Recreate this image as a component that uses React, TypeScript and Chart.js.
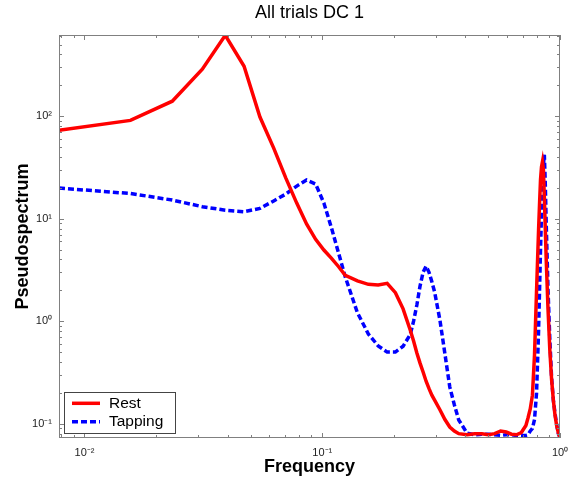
import React, { useEffect, useRef } from "react";
import { Chart, registerables } from "chart.js";

Chart.register(...registerables);

// Frequencies (k/128) at which the spectra are sampled
const frequency = [
  0.0078125, 0.0156, 0.0234, 0.0313, 0.0391, 0.0469, 0.0547, 0.0625, 0.0703, 0.0781,
  0.0859, 0.0938, 0.1016, 0.1094, 0.1172, 0.125, 0.1406, 0.1563, 0.1719, 0.1875,
  0.2031, 0.2188, 0.2344, 0.2422, 0.25, 0.2578, 0.2656, 0.2734, 0.2813, 0.2891,
  0.2969, 0.3125, 0.3281, 0.3438, 0.3594, 0.375, 0.4063, 0.4375, 0.4688, 0.5,
  0.5313, 0.5625, 0.5938, 0.625, 0.6563, 0.6875, 0.7188, 0.7344, 0.75, 0.7656,
  0.7813, 0.7969, 0.8125, 0.8203, 0.8281, 0.8359, 0.8438, 0.8516, 0.8594, 0.8672,
  0.875, 0.8906, 0.9063, 0.9219, 0.9375, 0.9531, 0.9688, 0.9844, 1.0,
];

const restValues = [
  73, 91, 140, 287, 615, 307, 98, 48.8, 24.9, 14.2,
  8.9, 6.3, 4.95, 4.1, 3.4, 2.8, 2.47, 2.29, 2.26, 2.34,
  1.9, 1.32, 0.82, 0.64, 0.49, 0.39, 0.32, 0.26, 0.22, 0.19,
  0.17, 0.137, 0.11, 0.093, 0.085, 0.08, 0.078, 0.08, 0.08, 0.078,
  0.08, 0.085, 0.083, 0.079, 0.078, 0.082, 0.096, 0.115, 0.14, 0.19,
  0.47, 2.0, 7.7, 14, 24, 32, 36, 30, 16, 8,
  4, 1.3, 0.52, 0.27, 0.17, 0.12, 0.095, 0.081, 0.073,
];

const tappingValues = [
  19.9, 17.6, 15.2, 13.1, 12.1, 11.7, 12.6, 14.9, 17.4, 20.8,
  23.8, 21.8, 14.2, 8.1, 4.6, 2.7, 1.21, 0.75, 0.575, 0.5,
  0.5, 0.57, 0.74, 1.0, 1.44, 2.2, 3.0, 3.45, 3.0, 2.42,
  1.93, 1.03, 0.48, 0.229, 0.153, 0.109, 0.081, 0.078, 0.079, 0.079,
  0.078, 0.077, 0.078, 0.078, 0.077, 0.077, 0.077, 0.078, 0.085, 0.09,
  0.11, 0.2, 0.8, 2, 5, 11, 22, 34, 42, 22,
  9, 2.0, 0.66, 0.28, 0.17, 0.126, 0.097, 0.08, 0.074,
];

const xTickValues = [0.01, 0.1, 1];
const xTickLabels = ["10\u207B\u00B2", "10\u207B\u00B9", "10\u2070"];
const yTickValues = [0.1, 1, 10, 100];
const yTickLabels = ["10\u207B\u00B9", "10\u2070", "10\u00B9", "10\u00B2"];

const X_MIN = 0.0078125;
const X_MAX = 1;
const Y_MIN = 0.0726;
const Y_MAX = 619;

const FONT = "'Liberation Sans', Arial, sans-serif";

function minorTicks(min: number, max: number) {
  const out: { v: number; major: boolean }[] = [];
  for (let e = Math.floor(Math.log10(min)); e <= Math.ceil(Math.log10(max)); e++) {
    for (let m = 1; m <= 9; m++) {
      const v = m * Math.pow(10, e);
      if (v >= min * 0.9999 && v <= max * 1.0001) out.push({ v, major: m === 1 });
    }
  }
  return out;
}

const framePlugin = {
  id: "frame",
  afterDatasetsDraw(chart: any) {
    const { ctx, chartArea: a, scales } = chart;
    ctx.save();
    ctx.strokeStyle = "#808080";
    ctx.lineWidth = 1;
    ctx.beginPath();
    for (const t of minorTicks(X_MIN, X_MAX)) {
      const px = Math.round(scales.x.getPixelForValue(t.v)) + 0.5;
      const len = t.major ? 5 : 3;
      ctx.moveTo(px, a.bottom);
      ctx.lineTo(px, a.bottom - len);
      ctx.moveTo(px, a.top);
      ctx.lineTo(px, a.top + len);
    }
    for (const t of minorTicks(Y_MIN, Y_MAX)) {
      const py = Math.round(scales.y.getPixelForValue(t.v)) + 0.5;
      const len = t.major ? 5 : 3;
      ctx.moveTo(a.left, py);
      ctx.lineTo(a.left + len, py);
      ctx.moveTo(a.right, py);
      ctx.lineTo(a.right - len, py);
    }
    ctx.stroke();
    ctx.strokeRect(a.left + 0.5, a.top + 0.5, a.right - a.left - 1, a.bottom - a.top - 1);

    // legend
    const lx = 64.5, ly = 392.5, lw = 111, lh = 41;
    ctx.fillStyle = "#ffffff";
    ctx.fillRect(lx, ly, lw, lh);
    ctx.strokeStyle = "#444";
    ctx.strokeRect(lx, ly, lw, lh);
    const rows = [403.3, 421.7];
    chart.data.datasets.forEach((ds: any, i: number) => {
      const y = rows[i];
      ctx.beginPath();
      ctx.strokeStyle = ds.borderColor;
      ctx.lineWidth = ds.borderWidth;
      ctx.setLineDash(ds.borderDash || []);
      ctx.moveTo(72, y);
      ctx.lineTo(100, y);
      ctx.stroke();
      ctx.setLineDash([]);
      ctx.fillStyle = "#000";
      ctx.font = `15.5px ${FONT}`;
      ctx.textBaseline = "middle";
      ctx.textAlign = "left";
      ctx.fillText(ds.label, 109, y + 0.5);
    });
    ctx.restore();
  },
};

export default function App() {
  const ref = useRef<HTMLCanvasElement | null>(null);

  useEffect(() => {
    if (!ref.current) return;
    const chart = new Chart(ref.current, {
      type: "line",
      data: {
        datasets: [
          {
            label: "Rest",
            data: frequency.map((f, i) => ({ x: f, y: restValues[i] })),
            borderColor: "#ff0000",
            borderWidth: 3.5,
            pointRadius: 0,
            tension: 0,
            fill: false,
          },
          {
            label: "Tapping",
            data: frequency.map((f, i) => ({ x: f, y: tappingValues[i] })),
            borderColor: "#0000ff",
            borderWidth: 3.5,
            borderDash: [6, 3],
            pointRadius: 0,
            tension: 0,
            fill: false,
          },
        ],
      },
      options: {
        animation: false,
        responsive: true,
        maintainAspectRatio: false,
        layout: { padding: { left: 0, right: 12, top: 0, bottom: 0 } },
        plugins: {
          legend: { display: false },
          tooltip: { enabled: false },
          title: {
            display: true,
            text: "All trials DC 1",
            fullSize: false,
            color: "#000",
            font: { family: FONT, size: 18, weight: "normal", lineHeight: 1.2 },
            padding: { top: 2.5, bottom: 10.9 },
          },
        },
        scales: {
          x: {
            type: "logarithmic",
            min: X_MIN,
            max: X_MAX,
            grid: { display: false, drawTicks: false },
            border: { display: false },
            afterBuildTicks: (scale: any) => {
              scale.ticks = xTickValues.map((v) => ({ value: v }));
            },
            afterFit: (scale: any) => {
              scale.height = 43;
              scale.paddingLeft = 0;
              scale.paddingRight = 0;
            },
            ticks: {
              autoSkip: false,
              maxRotation: 0,
              padding: 8,
              color: "#222",
              font: { family: FONT, size: 11 },
              callback: (_v: any, i: number) => xTickLabels[i],
            },
            title: {
              display: true,
              text: "Frequency",
              color: "#000",
              font: { family: FONT, size: 18, weight: "bold", lineHeight: 1.2 },
              padding: { top: 0, bottom: 2.8 },
            },
          },
          y: {
            type: "logarithmic",
            min: Y_MIN,
            max: Y_MAX,
            grid: { display: false, drawTicks: false },
            border: { display: false },
            afterBuildTicks: (scale: any) => {
              scale.ticks = yTickValues.map((v) => ({ value: v }));
            },
            afterFit: (scale: any) => {
              scale.width = 59;
              scale.paddingTop = 0;
              scale.paddingBottom = 0;
            },
            ticks: {
              autoSkip: false,
              padding: 7,
              color: "#222",
              font: { family: FONT, size: 11 },
              callback: (_v: any, i: number) => yTickLabels[i],
            },
            title: {
              display: true,
              text: "Pseudospectrum",
              color: "#000",
              font: { family: FONT, size: 18, weight: "bold", lineHeight: 1.2 },
              padding: { top: 12, bottom: 0 },
            },
          },
        },
      },
      plugins: [framePlugin],
    });
    return () => chart.destroy();
  }, []);

  return (
    <div style={{ position: "absolute", left: 0, top: 0, width: 572, height: 481, background: "#fff" }}>
      <canvas ref={ref} />
    </div>
  );
}
